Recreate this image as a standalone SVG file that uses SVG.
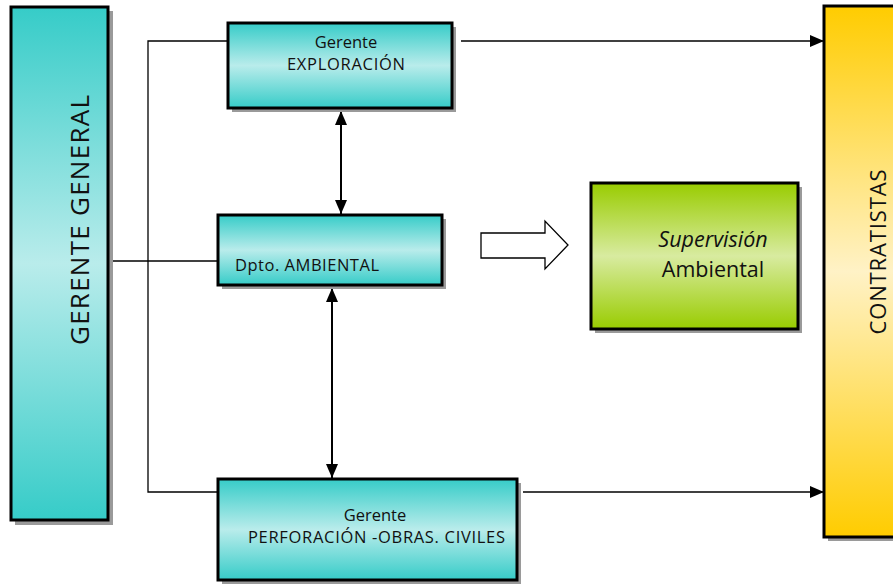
<svg xmlns="http://www.w3.org/2000/svg" width="893" height="584" viewBox="0 0 893 584">
<defs>
<linearGradient id="teal" x1="0" y1="0" x2="0" y2="1">
<stop offset="0" stop-color="#36CCC8"/><stop offset="0.5" stop-color="#B9ECEB"/><stop offset="1" stop-color="#36CCC8"/>
</linearGradient>
<linearGradient id="green" x1="0" y1="0" x2="0" y2="1">
<stop offset="0" stop-color="#99CC00"/><stop offset="0.5" stop-color="#D8EBA0"/><stop offset="1" stop-color="#99CC00"/>
</linearGradient>
<linearGradient id="yellow" x1="0" y1="0" x2="0" y2="1">
<stop offset="0" stop-color="#FFCC00"/><stop offset="0.5" stop-color="#FFF2C6"/><stop offset="1" stop-color="#FFCC00"/>
</linearGradient>
<marker id="ah" viewBox="0 0 14 12" refX="14" refY="6" markerWidth="14" markerHeight="12" markerUnits="userSpaceOnUse" orient="auto-start-reverse">
<path d="M0,0 L14,6 L0,12 z" fill="#000"/>
</marker>
</defs>
<style>
.box{stroke:#000;stroke-width:3}
.sh{fill:#9a9a9a}
.ln{fill:none;stroke:#000;stroke-width:1.3}
.dbl{fill:none;stroke:#000;stroke-width:2}
text{font-family:"Open Sans","Noto Sans","Liberation Sans",sans-serif;fill:#111}
.s{font-size:16.5px}
.m{font-size:21.5px}
.l{font-size:26px}
</style>
<g id="connectors">
<polyline class="ln" points="228,41 148,41 148,492 218,492"/>
<line class="ln" x1="110" y1="261" x2="218" y2="261"/>
<line class="ln" x1="461" y1="41" x2="824" y2="41" marker-end="url(#ah)"/>
<line class="ln" x1="523" y1="492" x2="824" y2="492" marker-end="url(#ah)"/>
<line class="dbl" x1="341" y1="111" x2="341" y2="214" marker-start="url(#ah)" marker-end="url(#ah)"/>
<line class="dbl" x1="332" y1="288" x2="332" y2="478" marker-start="url(#ah)" marker-end="url(#ah)"/>
<path d="M481,233 L545,233 L545,221 L568,245 L545,269 L545,258 L481,258 z" fill="#fff" stroke="#000" stroke-width="1.3"/>
</g>
<g id="gerente-general">
<rect class="sh" x="15" y="11" width="98" height="514"/>
<rect class="box" x="11" y="7" width="97" height="513" fill="url(#teal)"/>
<text class="l" transform="translate(89,220) rotate(-90)" text-anchor="middle" textLength="250">GERENTE GENERAL</text>
</g>
<g id="gerente-exploracion">
<rect class="sh" x="232" y="27" width="224" height="85"/>
<rect class="box" x="228" y="23" width="224" height="85" fill="url(#teal)"/>
<text class="s" x="346" y="48" text-anchor="middle">Gerente</text>
<text class="s" x="346" y="70" text-anchor="middle" textLength="118">EXPLORACIÓN</text>
</g>
<g id="dpto-ambiental">
<rect class="sh" x="222" y="219" width="224" height="70"/>
<rect class="box" x="218" y="215" width="224" height="70" fill="url(#teal)"/>
<text class="s" x="235" y="271" textLength="144">Dpto. AMBIENTAL</text>
</g>
<g id="gerente-perforacion">
<rect class="sh" x="222" y="483" width="299" height="101"/>
<rect class="box" x="218" y="479" width="299" height="101" fill="url(#teal)"/>
<text class="s" x="375" y="521" text-anchor="middle">Gerente</text>
<text class="s" x="248" y="543" textLength="257">PERFORACIÓN -OBRAS. CIVILES</text>
</g>
<g id="supervision-ambiental">
<rect class="sh" x="595" y="187" width="207" height="146"/>
<rect class="box" x="591" y="183" width="207" height="146" fill="url(#green)"/>
<text class="m" x="713" y="247" text-anchor="middle" font-style="italic">Supervisión</text>
<text class="m" x="713" y="277" text-anchor="middle">Ambiental</text>
</g>
<g id="contratistas">
<rect class="sh" x="828" y="10" width="70" height="531"/>
<rect class="box" x="824" y="6" width="75" height="531" fill="url(#yellow)"/>
<text transform="translate(886,252) rotate(-90)" text-anchor="middle" textLength="165" style="font-size:22px">CONTRATISTAS</text>
</g>
</svg>
